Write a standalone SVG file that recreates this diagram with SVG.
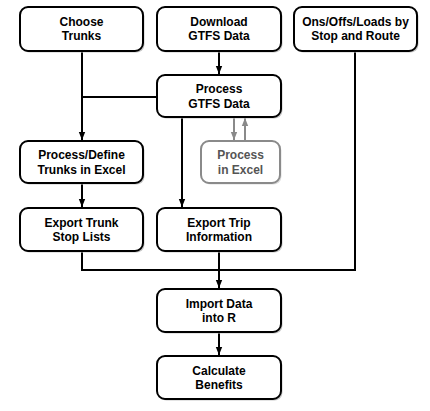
<svg xmlns="http://www.w3.org/2000/svg" width="430" height="411" viewBox="0 0 430 411">
<defs>
<marker id="ah" viewBox="0 0 8 8" refX="8" refY="4" markerWidth="8" markerHeight="8" markerUnits="userSpaceOnUse" orient="auto">
<path d="M0,0.8 L8,4 L0,7.2 Z" fill="#000"/>
</marker>
<marker id="ahg" viewBox="0 0 8 8" refX="8" refY="4" markerWidth="8" markerHeight="8" markerUnits="userSpaceOnUse" orient="auto">
<path d="M0,0.8 L8,4 L0,7.2 Z" fill="#8a8a8a"/>
</marker>
</defs>
<style>
.box{fill:#fff;stroke:#000;stroke-width:2}
.shadow{fill:#c8c8c8;stroke:none}
.gbox{fill:#fff;stroke:#8a8a8a;stroke-width:2}
.t{font-family:"Liberation Sans",Arial,sans-serif;font-size:12px;font-weight:bold;fill:#000;text-anchor:middle}
.gt{fill:#555}
.c{fill:none;stroke:#000;stroke-width:2}
.gc{fill:none;stroke:#8a8a8a;stroke-width:2}
</style>
<rect width="430" height="411" fill="#fff"/>
<g id="connectors">
<path class="c" d="M82,51 V140" marker-end="url(#ah)"/>
<path class="c" d="M82,97 H157"/>
<path class="c" d="M219,51 V74" marker-end="url(#ah)"/>
<path class="c" d="M182,117 V207" marker-end="url(#ah)"/>
<path class="c" d="M82,183 V207" marker-end="url(#ah)"/>
<path class="c" d="M82,251 V270 H355 V51"/>
<path class="c" d="M219,251 V288" marker-end="url(#ah)"/>
<path class="c" d="M219,333 V355" marker-end="url(#ah)"/>
<path class="gc" d="M234,117 V140" marker-end="url(#ahg)"/>
<path class="gc" d="M245,141 V118" marker-end="url(#ahg)"/>
</g>
<g id="choose-trunks">
<rect class="shadow" x="21.5" y="8.5" width="123" height="44" rx="8"/>
<rect class="box" x="20" y="7" width="123" height="44" rx="8"/>
<text class="t" x="81.5" y="25.7">Choose</text>
<text class="t" x="81.5" y="39.5">Trunks</text>
</g>
<g id="download-gtfs">
<rect class="shadow" x="158.5" y="8.5" width="124" height="44" rx="8"/>
<rect class="box" x="157" y="7" width="124" height="44" rx="8"/>
<text class="t" x="219" y="25.7">Download</text>
<text class="t" x="219" y="39.5">GTFS Data</text>
</g>
<g id="ons-offs">
<rect class="shadow" x="295.5" y="8.5" width="123" height="44" rx="8"/>
<rect class="box" x="294" y="7" width="123" height="44" rx="8"/>
<text class="t" x="355.5" y="25.7">Ons/Offs/Loads by</text>
<text class="t" x="355.5" y="39.5">Stop and Route</text>
</g>
<g id="process-gtfs">
<rect class="shadow" x="158.5" y="76.5" width="124" height="42" rx="8"/>
<rect class="box" x="157" y="75" width="124" height="42" rx="8"/>
<text class="t" x="219" y="93.3">Process</text>
<text class="t" x="219" y="107.5">GTFS Data</text>
</g>
<g id="process-define">
<rect class="shadow" x="21.5" y="142.5" width="123" height="42" rx="8"/>
<rect class="box" x="20" y="141" width="123" height="42" rx="8"/>
<text class="t" x="81.5" y="159.3">Process/Define</text>
<text class="t" x="81.5" y="173.5">Trunks in Excel</text>
</g>
<g id="process-excel">
<rect class="shadow" x="202.5" y="142.5" width="79" height="42" rx="8" opacity="0.6"/>
<rect class="gbox" x="201" y="141" width="79" height="42" rx="8"/>
<text class="t gt" x="240.5" y="159.3">Process</text>
<text class="t gt" x="240.5" y="173.5">in Excel</text>
</g>
<g id="export-trunk">
<rect class="shadow" x="21.5" y="209.5" width="123" height="43" rx="8"/>
<rect class="box" x="20" y="208" width="123" height="43" rx="8"/>
<text class="t" x="81.5" y="226.5">Export Trunk</text>
<text class="t" x="81.5" y="240.7">Stop Lists</text>
</g>
<g id="export-trip">
<rect class="shadow" x="158.5" y="209.5" width="124" height="43" rx="8"/>
<rect class="box" x="157" y="208" width="124" height="43" rx="8"/>
<text class="t" x="219" y="226.5">Export Trip</text>
<text class="t" x="219" y="240.7">Information</text>
</g>
<g id="import-data">
<rect class="shadow" x="158.5" y="290.5" width="124" height="43" rx="8"/>
<rect class="box" x="157" y="289" width="124" height="43" rx="8"/>
<text class="t" x="219" y="307.5">Import Data</text>
<text class="t" x="219" y="321.7">into R</text>
</g>
<g id="calculate-benefits">
<rect class="shadow" x="158.5" y="357.5" width="124" height="43" rx="8"/>
<rect class="box" x="157" y="356" width="124" height="43" rx="8"/>
<text class="t" x="219" y="374.5">Calculate</text>
<text class="t" x="219" y="388.7">Benefits</text>
</g>
</svg>
